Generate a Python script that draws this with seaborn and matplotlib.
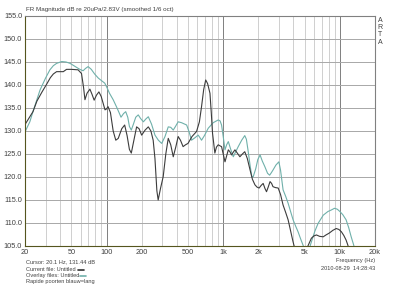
import numpy as np
import pandas as pd
import matplotlib
matplotlib.use("Agg")
import matplotlib.pyplot as plt
import seaborn as sns
from matplotlib.lines import Line2D

# current file (dark) - frequency in Hz, level in dB
cur_freq = [20, 23.4, 25.3, 28, 30.7, 33, 35, 37.3, 42.6, 45.4, 50, 57, 61, 63.5, 65.3, 68, 72, 75, 78.3,
            82, 86, 90, 97, 100, 103, 108, 114, 120, 126, 135, 143, 150, 157, 163, 170, 181, 190, 200,
            214, 228, 240, 251, 260, 270, 277, 290, 306, 322, 338, 355, 373, 392, 411, 430, 453, 475,
            499, 540, 591, 625, 652, 680, 708, 735, 770, 790, 810, 848, 875, 906, 935, 968, 1000, 1036,
            1070, 1106, 1140, 1180, 1220, 1260, 1320, 1390, 1460, 1530, 1610, 1700, 1780, 1870, 1950,
            2030, 2120, 2200, 2280, 2350, 2430, 2520, 2600, 2670, 2800, 2960, 3100, 3260, 3430, 3600,
            3780, 3970, 4200, 4600, 5000, 5300, 5700, 6000, 6300, 6700, 7200, 7600, 8100, 8700, 9300,
            9800, 10300, 10800, 11300, 11700, 12200, 13000]
cur_db = [131.4, 134.2, 136.5, 138.5, 140.2, 141.6, 142.4, 142.9, 142.9, 143.4, 143.4, 143.3, 142.5, 139.5,
          136.8, 138.2, 139.1, 138.0, 136.7, 137.8, 138.5, 137.5, 134.6, 134.8, 135.3, 134.0, 130.0, 128.0,
          128.4, 130.5, 131.3, 129.0, 126.0, 125.2, 127.5, 130.9, 130.5, 129.1, 130.2, 130.9, 130.0, 128.0,
          124.0, 117.0, 115.0, 117.5, 120.1, 125.0, 128.4, 127.0, 124.4, 126.5, 128.8, 128.0, 126.6, 127.0,
          127.3, 128.8, 129.9, 132.0, 135.3, 139.0, 141.1, 140.3, 138.2, 134.0, 129.5, 125.2, 126.5, 127.0,
          126.8, 126.6, 125.0, 123.3, 124.6, 125.9, 125.5, 124.8, 125.4, 125.9, 125.2, 124.4, 125.0, 125.5,
          124.0, 121.5, 119.5, 118.3, 117.8, 117.6, 118.2, 118.6, 117.5, 116.8, 117.8, 119.0, 118.6, 117.9,
          117.7, 117.6, 116.2, 113.9, 112.3, 110.7, 108.3, 105.9, 103.5, 101.5, 103.0, 104.9, 106.7, 107.2,
          107.4, 107.1, 107.0, 107.4, 107.8, 108.4, 108.8, 108.6, 108.1, 107.3, 106.3, 105.2, 103.5, 101.0]

# overlay file (teal)
ovl_freq = [20, 22, 23.4, 26.9, 30, 32.7, 35, 37.3, 41.3, 45, 48.7, 54, 59, 63, 66, 69.5, 74, 79, 85, 90,
            96.5, 101, 106, 114, 122, 128, 133, 140, 146, 152, 157, 163, 170, 178, 187, 196, 207, 217, 228,
            243, 260, 278, 297, 317, 338, 355, 373, 390, 411, 440, 486, 510, 535, 570, 610, 630, 652, 690,
            744, 820, 906, 940, 968, 1000, 1036, 1070, 1106, 1160, 1220, 1280, 1345, 1440, 1530, 1580, 1630,
            1700, 1760, 1810, 1900, 1980, 2070, 2160, 2270, 2400, 2500, 2580, 2670, 2830, 3000, 3100, 3260,
            3430, 3600, 3780, 3970, 4180, 4380, 4600, 4830, 5100, 5400, 5700, 6100, 6500, 7200, 7900, 8400,
            9000, 9500, 10000, 10600, 11300, 11900, 12500, 13100, 13600, 14200]
ovl_db = [129.8, 132.0, 134.2, 138.9, 141.5, 143.3, 144.2, 144.7, 145.1, 145.0, 144.7, 144.0, 143.4, 143.1,
          143.6, 144.0, 143.4, 142.4, 141.5, 141.0, 140.4, 139.4, 138.2, 136.8, 135.2, 134.0, 133.0, 133.8,
          134.2, 133.0, 131.0, 130.2, 131.5, 133.0, 133.5, 132.7, 132.0, 132.6, 133.1, 131.5, 129.1, 128.0,
          127.3, 128.8, 130.9, 130.8, 130.2, 131.0, 132.0, 131.8, 131.3, 129.8, 128.0, 128.5, 129.1, 128.6,
          128.0, 129.0, 130.6, 131.8, 132.4, 132.2, 131.3, 128.8, 125.9, 127.0, 127.7, 126.0, 124.4, 125.5,
          126.6, 128.0, 129.0, 128.2, 125.9, 122.5, 120.0, 120.1, 121.8, 123.8, 124.8, 123.5, 122.3, 120.8,
          120.4, 120.9, 121.5, 122.6, 123.3, 121.5, 117.2, 115.8, 114.3, 112.5, 110.7, 109.3, 108.1, 106.6,
          105.2, 103.5, 104.0, 105.9, 108.2, 109.9, 111.7, 112.5, 112.8, 113.2, 113.0, 112.5, 111.8, 110.7,
          109.0, 107.0, 105.3, 103.8, 101.5]

y_ticks = [105, 110, 115, 120, 125, 130, 135, 140, 145, 150, 155]
x_ticks = [20, 50, 100, 200, 500, 1000, 2000, 5000, 10000, 20000]
x_labels = ["20", "50", "100", "200", "500", "1k", "2k", "5k", "10k", "20k"]
grid_freqs = [m * d for d in [10, 100, 1000, 10000] for m in range(1, 10) if 20 <= m * d <= 20000] + [20000]
decades = [100, 1000, 10000]

sns.set_style("white")
plt.rcParams['font.family'] = ['Liberation Sans', 'DejaVu Sans']

fig = plt.figure(figsize=(4, 2.87), dpi=100)
ax = fig.add_axes([25 / 400, 41 / 287, 350 / 400, 230 / 287])
ax.set_xscale('log')

for f in grid_freqs:
    ax.axvline(f, color='#7f7f7f' if f in decades else '#cfcfcf', linewidth=0.7, zorder=0)
for t in y_ticks:
    ax.axhline(t, color='#a8a8a8', linewidth=0.7, zorder=0)

df_ovl = pd.DataFrame({"freq": ovl_freq, "db": ovl_db})
df_cur = pd.DataFrame({"freq": cur_freq, "db": cur_db})
sns.lineplot(data=df_ovl, x="freq", y="db", ax=ax, color='#6fb0aa', linewidth=0.8, sort=False)
sns.lineplot(data=df_cur, x="freq", y="db", ax=ax, color='#3c3c3c', linewidth=0.8, sort=False)

ax.set_xlim(20, 20000)
ax.set_ylim(105, 155)
ax.set_xticks(x_ticks)
ax.set_xticklabels(x_labels)
ax.xaxis.set_minor_locator(matplotlib.ticker.NullLocator())
ax.set_yticks(y_ticks)
ax.set_yticklabels([f"{t:.1f}" for t in y_ticks])
ax.tick_params(length=0, labelsize=5.3, labelcolor='#404040', pad=2)
ax.set_xlabel("")
ax.set_ylabel("")
for s in ['left', 'bottom']:
    ax.spines[s].set_color('#55551e')
for s in ['top', 'right']:
    ax.spines[s].set_color('#808080')
for s in ax.spines.values():
    s.set_linewidth(0.8)

fs = 4.1
tc = '#404040'
fig.text(26 / 400, 1 - 11 / 287, "FR Magnitude dB re 20uPa/2.83V (smoothed 1/6 oct)", fontsize=4.5, color=tc, va='baseline')
fig.text(380 / 400, 1 - 17 / 287, "A\nR\nT\nA", fontsize=5, color=tc, va='top', ha='center', linespacing=1.05)
fig.text(26 / 400, 1 - 263 / 287, "Cursor: 20.1 Hz, 131.44 dB", fontsize=fs, color=tc, va='baseline')
fig.text(26 / 400, 1 - 271 / 287, "Current file: Untitled", fontsize=fs, color=tc, va='baseline')
fig.text(26 / 400, 1 - 277 / 287, "Overlay files: Untitled", fontsize=fs, color=tc, va='baseline')
fig.text(26 / 400, 1 - 283 / 287, "Rapide poorten blauw=lang", fontsize=fs, color=tc, va='baseline')
fig.lines.append(Line2D([78 / 400, 84 / 400], [1 - 269.5 / 287, 1 - 269.5 / 287], transform=fig.transFigure, color='#303030', linewidth=1.2))
fig.lines.append(Line2D([80 / 400, 86 / 400], [1 - 275.5 / 287, 1 - 275.5 / 287], transform=fig.transFigure, color='#6fb0aa', linewidth=1.2))
fig.text(375 / 400, 1 - 262 / 287, "Frequency (Hz)", fontsize=fs, color=tc, va='baseline', ha='right')
fig.text(375 / 400, 1 - 270 / 287, "2010-08-29  14:28:43", fontsize=fs, color=tc, va='baseline', ha='right')

fig.savefig("out.png", dpi=100, facecolor='white')
